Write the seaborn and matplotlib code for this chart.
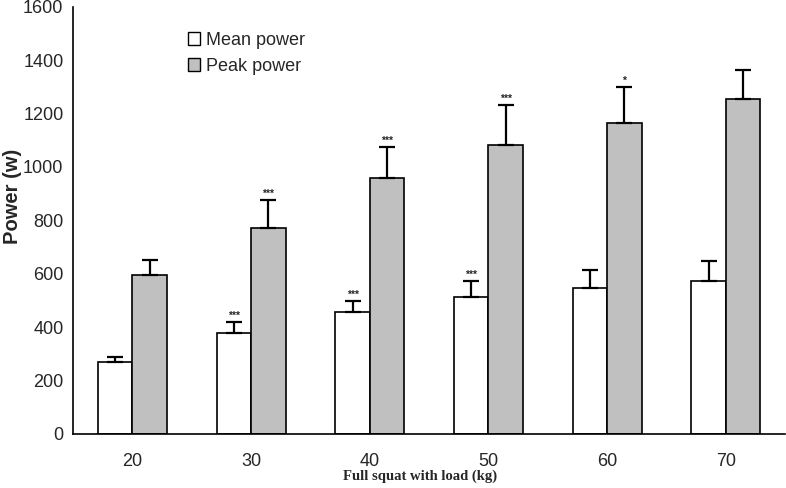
import numpy as np
import pandas as pd
import matplotlib
matplotlib.use("Agg")
import matplotlib.pyplot as plt
import seaborn as sns
from matplotlib.patches import Patch

# Data
loads = ["20", "30", "40", "50", "60", "70"]
mean_power = [268, 378, 457, 513, 547, 572]
mean_sd = [19, 40, 42, 60, 66, 75]
peak_power = [594, 772, 957, 1083, 1163, 1253]
peak_sd = [57, 104, 118, 150, 137, 110]
mean_sig = ["", "***", "***", "***", "", ""]
peak_sig = ["", "***", "***", "***", "*", ""]

df = pd.DataFrame({
    "load": loads * 2,
    "power": mean_power + peak_power,
    "kind": ["Mean power"] * len(loads) + ["Peak power"] * len(loads),
})

sns.set_style("white")
plt.rcParams["font.family"] = ["Liberation Sans", "DejaVu Sans"]

fig = plt.figure(figsize=(7.86, 4.88), dpi=100)
ax = fig.add_axes([0.093, 0.111, 0.906, 0.875])

sns.barplot(data=df, x="load", y="power", hue="kind", order=loads,
            hue_order=["Mean power", "Peak power"],
            palette={"Mean power": "white", "Peak power": "#c0c0c0"},
            edgecolor="black", linewidth=1.2, width=0.58, errorbar=None,
            legend=False, ax=ax)

# upward-only error bars and significance marks
for cont, sd, sig in zip(ax.containers, [mean_sd, peak_sd], [mean_sig, peak_sig]):
    for bar, e, s in zip(cont, sd, sig):
        xc = bar.get_x() + bar.get_width() / 2
        h = bar.get_height()
        ax.errorbar(xc, h, yerr=[[0], [e]], fmt="none", ecolor="black",
                    elinewidth=1.6, capsize=6, capthick=1.6)
        if s:
            ax.text(xc, h + e + 4, s, ha="center", va="bottom",
                    fontsize=7.5, fontweight="bold")

ax.set_xlim(-0.5, len(loads) - 0.5)
ax.set_ylim(0, 1600)
ax.set_yticks(np.arange(0, 1601, 200))
ax.set_xticks(np.arange(len(loads)))
ax.set_xticklabels(loads)
ax.set_xticks(np.arange(-0.5, len(loads)), minor=True)
ax.tick_params(axis="x", which="major", length=0, labelsize=13, pad=14)
ax.tick_params(axis="x", which="minor", length=5, width=1.2, direction="out")
ax.tick_params(axis="y", length=5, width=1.2, direction="out", labelsize=13, pad=2)

sns.despine(ax=ax)
for sp in ["left", "bottom"]:
    ax.spines[sp].set_linewidth(1.2)
    ax.spines[sp].set_color("black")

ax.set_ylabel("")
ax.set_xlabel("")
fig.text(0.016, 0.598, "Power (w)", rotation=90, ha="center", va="center",
         fontsize=14.5, fontweight="bold")
fig.text(0.535, 0.025, "Full squat with load (kg)", ha="center", va="center",
         fontsize=10.5, fontweight="bold", family="Liberation Serif")

handles = [Patch(facecolor="white", edgecolor="black", linewidth=1.0),
           Patch(facecolor="#c0c0c0", edgecolor="black", linewidth=1.0)]
ax.legend(handles, ["Mean power", "Peak power"], loc="upper left",
          bbox_to_anchor=(0.218, 0.968), bbox_transform=fig.transFigure,
          frameon=False, fontsize=13, handlelength=0.7, handleheight=0.7,
          handletextpad=0.3, labelspacing=0.5)

fig.savefig("out.png", dpi=100)
